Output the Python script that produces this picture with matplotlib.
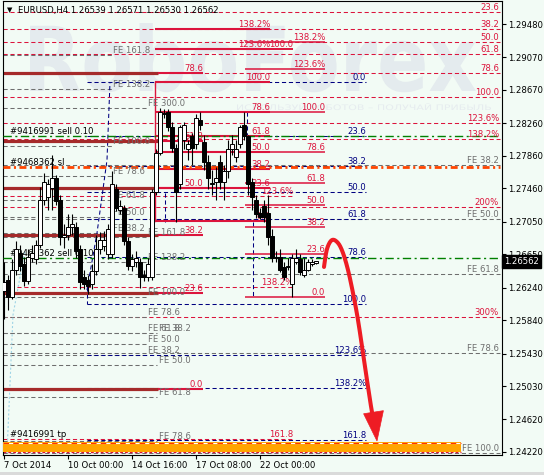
import matplotlib
matplotlib.use('Agg')
import numpy as np
import matplotlib.pyplot as plt
from matplotlib.patches import Rectangle, PathPatch, Polygon
from matplotlib.textpath import TextPath
from matplotlib.font_manager import FontProperties
from matplotlib.transforms import Affine2D, IdentityTransform

plt.rcParams['font.family'] = ['DejaVu Sans']
plt.rcParams['lines.scale_dashes'] = False

W, H, DPI = 544, 475, 100
BG = '#F2FBF5'

# ---------------- data (EURUSD H4) ----------------
opens = [1.2620, 1.2634, 1.2613, 1.2646, 1.2667, 1.2653, 1.2632, 1.2661, 1.2659, 1.2677,
         1.2732, 1.2736, 1.2747, 1.2759, 1.2732, 1.2686, 1.2689, 1.2698, 1.2698, 1.2671,
         1.2637, 1.2634, 1.2628, 1.2644, 1.2671, 1.2675, 1.2665, 1.2665, 1.2745, 1.2720,
         1.2722, 1.2681, 1.2650, 1.2656, 1.2656, 1.2640, 1.2637, 1.2637, 1.2742, 1.2790,
         1.2837, 1.2840, 1.2821, 1.2796, 1.2751, 1.2806, 1.2794, 1.2810, 1.2800, 1.2830,
         1.2803, 1.2779, 1.2753, 1.2754, 1.2779, 1.2754, 1.2767, 1.2794, 1.2784, 1.2800,
         1.2824, 1.2810, 1.2754, 1.2732, 1.2716, 1.2724, 1.2716, 1.2687, 1.2661, 1.2662,
         1.2649, 1.2649, 1.2628, 1.2656, 1.2659, 1.2640, 1.2646, 1.2653, 1.26539]
highs = [1.2656, 1.2640, 1.2659, 1.2681, 1.2677, 1.2662, 1.2671, 1.2677, 1.2683, 1.2748,
         1.2765, 1.2757, 1.2787, 1.2763, 1.2738, 1.2702, 1.2714, 1.2714, 1.2705, 1.2677,
         1.2646, 1.2640, 1.2653, 1.2689, 1.2692, 1.2693, 1.2702, 1.2767, 1.2751, 1.2732,
         1.2726, 1.2686, 1.2665, 1.2669, 1.2661, 1.2646, 1.2661, 1.2745, 1.2794, 1.2845,
         1.2843, 1.2843, 1.2828, 1.2800, 1.2824, 1.2828, 1.2806, 1.2814, 1.2837, 1.2840,
         1.2812, 1.2787, 1.2769, 1.2772, 1.2787, 1.2775, 1.2806, 1.2812, 1.2806, 1.2824,
         1.2840, 1.2812, 1.2759, 1.2738, 1.2722, 1.2732, 1.2738, 1.2696, 1.2669, 1.2671,
         1.2656, 1.2661, 1.2665, 1.2671, 1.2665, 1.2661, 1.2659, 1.2659, 1.26571]
lows = [1.2585, 1.2597, 1.2610, 1.2640, 1.2644, 1.2626, 1.2628, 1.2656, 1.2653, 1.2673,
        1.2726, 1.2720, 1.2720, 1.2726, 1.2677, 1.2673, 1.2683, 1.2689, 1.2661, 1.2622,
        1.2622, 1.2616, 1.2622, 1.2640, 1.2665, 1.2669, 1.2659, 1.2661, 1.2718, 1.2714,
        1.2677, 1.2646, 1.2644, 1.2649, 1.2624, 1.2632, 1.2632, 1.2634, 1.2738, 1.2787,
        1.2833, 1.2816, 1.2791, 1.2705, 1.2745, 1.2794, 1.2781, 1.2775, 1.2794, 1.2818,
        1.2769, 1.2745, 1.2738, 1.2732, 1.2745, 1.2732, 1.2759, 1.2787, 1.2779, 1.2796,
        1.2806, 1.2738, 1.2720, 1.2710, 1.2708, 1.2705, 1.2677, 1.2656, 1.2656, 1.2643,
        1.2634, 1.2646, 1.2613, 1.2653, 1.2639, 1.2637, 1.2644, 1.2651, 1.26530]
closes = [1.2631, 1.2613, 1.2646, 1.2671, 1.2650, 1.2632, 1.2662, 1.2667, 1.2677, 1.2732,
          1.2754, 1.2751, 1.2759, 1.2730, 1.2686, 1.2689, 1.2698, 1.2702, 1.2669, 1.2631,
          1.2628, 1.2626, 1.2644, 1.2671, 1.2683, 1.2683, 1.2696, 1.2751, 1.2722, 1.2724,
          1.2681, 1.2650, 1.2659, 1.2661, 1.2637, 1.2637, 1.2653, 1.2742, 1.2790, 1.2840,
          1.2839, 1.2821, 1.2796, 1.2742, 1.2822, 1.2824, 1.2800, 1.2796, 1.2833, 1.2824,
          1.2779, 1.2759, 1.2751, 1.2759, 1.2754, 1.2767, 1.2794, 1.2800, 1.2794, 1.2822,
          1.2810, 1.2751, 1.2735, 1.2714, 1.2711, 1.2711, 1.2686, 1.2661, 1.2662, 1.2646,
          1.2637, 1.2651, 1.2661, 1.2661, 1.2643, 1.2646, 1.2655, 1.2655, 1.26562]

header = 'EURUSD,H4 1.26539 1.26571 1.26530 1.26562'
last_price = 1.26562

x_ticks = [0, 16, 32, 48, 64]
x_tick_labels = ['7 Oct 2014', '10 Oct 00:00', '14 Oct 16:00', '17 Oct 08:00', '22 Oct 00:00']
y_ticks = [1.29480, 1.29070, 1.28670, 1.28260, 1.27860, 1.27460, 1.27050,
           1.26650, 1.26240, 1.25840, 1.25430, 1.25030, 1.24620, 1.24220]

# main Fibonacci retracement (crimson dashed, right labels)
fib_labels = ['23.6', '38.2', '50.0', '61.8', '78.6', '100.0', '123.6%', '138.2%', '200%', '300%']
fib_prices = [1.29628, 1.29419, 1.29259, 1.29111, 1.28878, 1.28583, 1.28263, 1.28067, 1.27231, 1.25879]

# navy Fibonacci expansion
navy_labels = ['0.0', '23.6', '38.2', '50.0', '61.8', '78.6', '100.0', '123.6%', '138.2%', '161.8']
navy_prices = [1.28767, 1.28104, 1.27735, 1.27415, 1.27084, 1.26617, 1.26039, 1.25412, 1.25007, 1.24367]

# set A (brown + crimson)
a_labels = ['0.0', '23.6', '38.2', '50.0', '61.8', '78.6']
a_prices = [1.24994, 1.26174, 1.26887, 1.27465, 1.28042, 1.28878]

# set C (crimson solid, labels at x~325)
c_labels = ['0.0', '23.6', '38.2', '50.0', '61.8', '78.6', '100.0', '123.6%', '138.2%']
c_prices = [1.26125, 1.26653, 1.26985, 1.27256, 1.27526, 1.27907, 1.28399, 1.28927, 1.29259]

# set D (crimson solid, labels at x~272)
d_labels = ['0.0', '23.6', '38.2', '50.0', '61.8', '78.6', '100.0', '123.6%', '138.2%']
d_prices = [1.27059, 1.27465, 1.27698, 1.27907, 1.28104, 1.28399, 1.28767, 1.29173, 1.29419]

# set E (crimson dashed, labels at x~293)
e_labels = ['100.0', '123.6%', '138.2%', '161.8']
e_prices = [1.29173, 1.27366, 1.26248, 1.24380]

# Fibonacci expansions (gray)
fel_labels = ['FE 161.8', 'FE 138.2', 'FE 100.0', 'FE 78.6', 'FE 61.8', 'FE 50.0', 'FE 38.2']
fel_prices = [1.29099, 1.28681, 1.27980, 1.27612, 1.27317, 1.27108, 1.26911]
fem_labels = ['FE 300.0', 'FE 161.8', 'FE 138.2', 'FE 100.0', 'FE 78.6', 'FE 61.8', 'FE 50.0', 'FE 38.2']
fem_prices = [1.28448, 1.26862, 1.26555, 1.26125, 1.25879, 1.25682, 1.25547, 1.25412]
felo_labels = ['FE 38.2', 'FE 50.0', 'FE 61.8', 'FE 78.6']
felo_prices = [1.25682, 1.25289, 1.24896, 1.24355]
fer_labels = ['FE 38.2', 'FE 50.0', 'FE 61.8', 'FE 78.6', 'FE 100.0']
fer_prices = [1.27747, 1.27084, 1.26408, 1.25437, 1.24208]

# orders
order_labels = ['#9416991 sell 0.10', '#9468362 sl', '#9468362 sell 0.10', '#9416991 tp']
order_prices = [1.28104, 1.27723, 1.26604, 1.24380]
tp_line_price = 1.24220

# target zone
zone_low, zone_high = 1.24214, 1.24343

# forecast arrow path (bar index, price)
arrow_x = [80.0, 80.75, 82.0, 83.5, 84.75, 86.0, 87.25, 88.5, 90.0, 91.5, 92.25]
arrow_p = [1.26494, 1.26715, 1.26825, 1.26789, 1.26666, 1.26457, 1.26174, 1.25842, 1.25351, 1.24859, 1.24638]
arrow_head_x = [93.25, 89.9, 94.85]
arrow_head_p = [1.24355, 1.24690, 1.24728]

# trend lines of the Fibonacci tools
navy_trend_x = [20.75, 23.25, 25.75, 26.5]
navy_trend_p = [1.26211, 1.26911, 1.27809, 1.28767]
lightblue_trend_x = [0.75, 2.25, 5.25]
lightblue_trend_p = [1.24208, 1.25904, 1.26703]
navy_vert = [(20.75, 1.26250, 1.26039), (40.25, 1.27403, 1.27047),
             (60.75, 1.28399, 1.28054), (62.25, 1.27047, 1.26125)]

# ---------------- figure ----------------
fig = plt.figure(figsize=(W / DPI, H / DPI), dpi=DPI, facecolor=BG)
ax = fig.add_axes([3 / W, 20 / H, (502 - 3) / W, (474 - 20) / H])
ax.set_facecolor('none')
XL, XR = -0.25, 124.5
ax.set_xlim(XL, XR)
ax.set_ylim(1.24183, 1.29763)


def add_text_box(s, x0, x1, ytop, ybase, color, weight, z=-1):
    fp = FontProperties(family='DejaVu Sans', weight=weight)
    tp = TextPath((0, 0), s, size=100, prop=fp)
    bb = tp.get_extents()
    sx = (x1 - x0) / bb.width
    sy = (ybase - ytop) / bb.y1
    tr = Affine2D().translate(-bb.x0, 0).scale(sx, sy).translate(x0, H - ybase)
    patch = PathPatch(tr.transform_path(tp), facecolor=color, edgecolor='none',
                      transform=IdentityTransform(), zorder=z)
    fig.add_artist(patch)


add_text_box('RoboForex', 30, 476, 23, 91, '#E4EBEE', 'bold')
add_text_box('ИСПОЛЬЗУЙ РОБОТОВ – ПОЛУЧАЙ ПРИБЫЛЬ', 237, 491, 103, 110, '#E6ECEF', 'normal')

CRIMSON = '#DC143C'
NAVY = '#000080'
GRAY = '#6E6E6E'
BROWN = '#A52A2A'
DASH = (0, (3, 2))
FS = 6.1


def hline(p, x0, x1, color, lw=0.75, ls='-', z=2):
    ax.plot([x0, x1], [p, p], color=color, lw=lw, linestyle=ls, zorder=z,
            solid_capstyle='butt', dash_capstyle='butt')


def label(x, p, s, color, ha, z=4):
    ax.annotate(s, (x, p), xytext=(0, 0.3), textcoords='offset points', ha=ha, va='bottom',
                fontsize=FS, color=color, zorder=z, annotation_clip=False)


# main fib
for s, p in zip(fib_labels, fib_prices):
    hline(p, XL, 124.0, CRIMSON, ls=DASH)
    label(123.75, p, s, CRIMSON, 'right')

# FE sets
for s, p in zip(fer_labels, fer_prices):
    hline(p, XL, 124.0, GRAY, ls=DASH)
    label(123.75, p, s, GRAY, 'right')
for s, p in zip(fel_labels, fel_prices):
    hline(p, XL, 27.0, GRAY, ls=DASH)
    label(27.25, p, s, GRAY, 'left')
for s, p in zip(fem_labels, fem_prices):
    hline(p, XL, 36.0, GRAY, ls=DASH)
    label(36.0, p, s, GRAY, 'left')
for s, p in zip(felo_labels, felo_prices):
    hline(p, XL, 38.25, GRAY, ls=DASH)
    label(38.75, p, s, GRAY, 'left')

# set E
e_starts = [60.25, XL, XL, XL]
for s, p, x0 in zip(e_labels, e_prices, e_starts):
    hline(p, x0, 72.25, CRIMSON, ls=DASH if x0 == XL else '-', lw=0.75 if x0 == XL else 1.4)
    label(72.25, p, s, CRIMSON, 'right')

# navy fib
for s, p in zip(navy_labels, navy_prices):
    hline(p, 20.75, 90.5, NAVY, ls=DASH, z=2.2)
    label(90.5, p, s, NAVY, 'right')
ax.plot(navy_trend_x, navy_trend_p, color=NAVY, lw=0.75, linestyle=DASH, zorder=2.2)
for x, p0, p1 in navy_vert:
    ax.plot([x, x], [p0, p1], color=NAVY, lw=0.75, linestyle=DASH, zorder=2.2)
ax.plot(lightblue_trend_x, lightblue_trend_p, color='#9FD4E6', lw=0.8, linestyle=(0, (1.5, 1.5)), zorder=2)

# set A
for s, p in zip(a_labels, a_prices):
    hline(p, XL, 38.5, BROWN, lw=2.3, z=2.5)
    hline(p, 38.5, 49.75, CRIMSON, lw=1.5, z=2.5)
    label(49.75, p, s, CRIMSON, 'right')

# set D
for s, p in zip(d_labels, d_prices):
    hline(p, 37.75, 66.5, CRIMSON, lw=1.5, z=2.6)
    label(66.5, p, s, CRIMSON, 'right')
ax.plot([37.75, 37.75], [d_prices[6], d_prices[0]], color=CRIMSON, lw=1.0, zorder=2.6)

# set C
for s, p in zip(c_labels, c_prices):
    hline(p, 60.25, 80.25, CRIMSON, lw=1.1, z=2.6)
    label(80.25, p, s, CRIMSON, 'right')

# orders
order_styles = [('#008000', 1.0, (0, (6, 2.5, 1.5, 2.5))),
                ('#FF4500', 2.0, (0, (5, 2.5, 1.5, 2.5))),
                ('#008000', 1.0, (0, (6, 2.5, 1.5, 2.5)))]
for (s, p), (col, lw, ls) in zip(list(zip(order_labels, order_prices))[:3], order_styles):
    hline(p, XL, 124.0, col, lw=lw, ls=ls, z=3)
for s, p in zip(order_labels, order_prices):
    label(1.5, p, s, 'black', 'left', z=4)
hline(tp_line_price, XL, 114.2, CRIMSON, lw=1.0, ls=(0, (2, 1.5)), z=2.4)

# target zone
ax.add_patch(Rectangle((XL, zone_low), 114.2 - XL, zone_high - zone_low,
                       facecolor='#FFA500', edgecolor='none', zorder=3))
hline(zone_high - 0.00012, XL, 114.2, 'white', lw=0.8, z=3.1)
hline(zone_high - 0.00012, XL, 114.2, '#FF3300', lw=0.8, ls=(0, (4, 3)), z=3.2)

# candles
for i, (o, h, l, c) in enumerate(zip(opens, highs, lows, closes)):
    ax.plot([i, i], [min(l, o, c), max(h, o, c)], color='black', lw=0.8, zorder=6,
            solid_capstyle='butt')
    bottom = min(o, c)
    height = max(abs(c - o), 0.00003)
    fc = 'white' if c >= o else 'black'
    ax.add_patch(Rectangle((i - 0.38, bottom), 0.76, height, facecolor=fc,
                           edgecolor='black', lw=0.7, zorder=7))


# forecast arrow
def smooth(xs, ys, n=14):
    P = np.column_stack([xs, ys])
    P = np.vstack([P[0], P, P[-1]])
    out = []
    for k in range(1, len(P) - 2):
        p0, p1, p2, p3 = P[k - 1], P[k], P[k + 1], P[k + 2]
        for t in np.linspace(0, 1, n, endpoint=False):
            out.append(0.5 * (2 * p1 + (-p0 + p2) * t + (2 * p0 - 5 * p1 + 4 * p2 - p3) * t * t
                              + (-p0 + 3 * p1 - 3 * p2 + p3) * t ** 3))
    out.append(P[-2])
    return np.array(out)


sm = smooth(arrow_x, arrow_p)
ax.plot(sm[:, 0], sm[:, 1], color='#EE1C24', lw=2.9, solid_capstyle='round',
        solid_joinstyle='round', zorder=9)
ax.add_patch(Polygon(np.column_stack([arrow_head_x, arrow_head_p]), closed=True,
                     facecolor='#EE1C24', edgecolor='#EE1C24', lw=0.5, zorder=9))

# axes styling
for sp in ax.spines.values():
    sp.set_color('black')
    sp.set_linewidth(0.8)
ax.yaxis.tick_right()
ax.set_yticks(y_ticks)
ax.set_yticklabels(['%.5f' % v for v in y_ticks])
ax.set_xticks(x_ticks)
ax.set_xticklabels(x_tick_labels)
ax.tick_params(axis='both', direction='out', length=3, width=0.8, labelsize=FS, colors='black', pad=1.5)
for lab in ax.get_xticklabels():
    lab.set_ha('left')

# current price box
ax.annotate('%.5f' % last_price, (1.0, last_price), xycoords=('axes fraction', 'data'),
            xytext=(1.6, 0), textcoords='offset points', ha='left', va='center',
            fontsize=FS, color='white', zorder=10, annotation_clip=False,
            bbox=dict(boxstyle='square,pad=0.25', facecolor='black', edgecolor='black'))

# header
fig.text(10 / W, 1 - 10 / H, '▼', fontsize=5, ha='center', va='center', color='black')
fig.text(18 / W, 1 - 10 / H, header, fontsize=FS, ha='left', va='center', color='black')

# bottom window strip
fig.add_artist(Rectangle((0, 0), 1, 3 / H, transform=fig.transFigure,
                         facecolor='#DADADA', edgecolor='none'))

fig.savefig('out.png', dpi=DPI, facecolor=BG)
